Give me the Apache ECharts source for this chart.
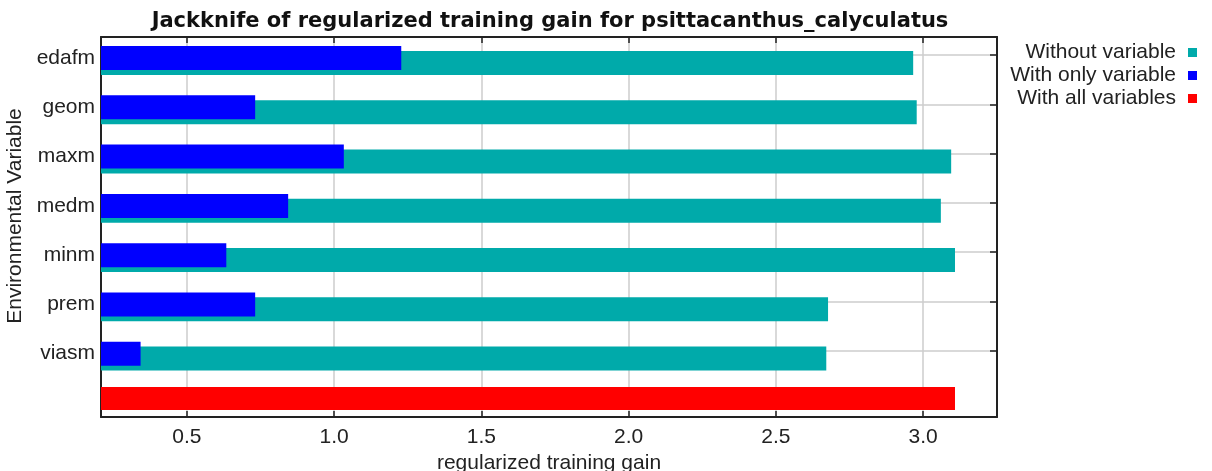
<!DOCTYPE html>
<html>
<head>
<meta charset="utf-8">
<title>Jackknife of regularized training gain</title>
<script src="https://cdn.jsdelivr.net/npm/echarts@6/dist/echarts.min.js"></script>
<style>
    html, body {
        margin: 0;
        padding: 0;
        background: #ffffff;
    }

    #jackknife-chart {
        width: 1212px;
        height: 471px;
    }
</style>
</head>
<body>
<div id="jackknife-chart"></div>
<script>
// values
const variables = ['edafm', 'geom', 'maxm', 'medm', 'minm', 'prem', 'viasm'];
const withoutVariable = [2.966, 2.978, 3.095, 3.060, 3.108, 2.677, 2.671];
const withOnlyVariable = [1.228, 0.732, 1.033, 0.844, 0.634, 0.732, 0.343];
const allVariablesRow = [''];
const withAllVariables = [3.108];
const gainTicks = [0.5, 1.0, 1.5, 2.0, 2.5, 3.0];

// layout (pixels): plot frame, row pitch of the variable rows, where the red bar sits
const plotLeft = 101, plotRight = 997, plotTop = 37, plotBottom = 417;
const rowPitch = 49.26;
const firstRowCenter = 60.5;
const allRowCenter = 398.5;
const gainMin = 0.2086, gainMax = 3.2506;

// the label axis works in "row units" so its ticks line up with the bar rows
const rowMin = (plotTop - firstRowCenter) / rowPitch;
const rowMax = (plotBottom - firstRowCenter) / rowPitch;
const tickShift = 0.11;
const labelShift = 0.05;
const rowTicks = variables.map((v, i) => i - tickShift);
const rowLabels = variables.map((v, i) => i - labelShift);

const fontFamily = '"Liberation Sans", Arial, Helvetica, sans-serif';
const frameColor = '#222';
const textColor = '#222';

const gridBox = (top, height) => ({
    left: plotLeft,
    width: plotRight - plotLeft,
    top: top,
    height: height,
    outerBoundsMode: 'none',
    containLabel: false,
});

const hiddenGainAxis = (gridIndex) => ({
    type: 'value',
    gridIndex: gridIndex,
    min: gainMin,
    max: gainMax,
    show: false,
});

let jackknife_chart = null;
let jackknifeOption = {
    animation: false,
    backgroundColor: '#ffffff',
    title: {
        text: 'Jackknife of regularized training gain for psittacanthus_calyculatus',
        left: (plotLeft + plotRight) / 2 - 4,
        textAlign: 'center',
        top: 6,
        textStyle: {
            fontFamily: '"DejaVu Sans", Verdana, sans-serif',
            fontSize: 21,
            fontWeight: 'bold',
            color: '#111',
        }
    },
    legend: {
        orient: 'vertical',
        right: 10,
        top: 37,
        align: 'right',
        icon: 'rect',
        itemWidth: 9,
        itemHeight: 9,
        itemGap: 2,
        selectedMode: false,
        data: ['Without variable', 'With only variable', 'With all variables'],
        textStyle: {
            fontFamily: fontFamily,
            fontSize: 21,
            color: textColor,
            padding: [0, 7, 0, 0],
        }
    },
    grid: [
        // 0: frame, x axis, row labels and grid lines
        gridBox(plotTop, plotBottom - plotTop),
        // 1: the seven variable rows
        gridBox(firstRowCenter - rowPitch / 2, rowPitch * variables.length),
        // 2: the "all variables" row
        gridBox(allRowCenter - rowPitch / 2, rowPitch),
    ],
    xAxis: [
        {
            type: 'value',
            gridIndex: 0,
            position: 'bottom',
            min: gainMin,
            max: gainMax,
            name: 'regularized training gain',
            nameLocation: 'middle',
            nameGap: 33,
            nameTextStyle: { fontFamily: fontFamily, fontSize: 21, color: textColor },
            axisLine: { show: true, onZero: false, lineStyle: { color: frameColor, width: 2 } },
            axisTick: { show: true, inside: true, length: 6, customValues: gainTicks, lineStyle: { color: frameColor, width: 1.5 } },
            axisLabel: {
                customValues: gainTicks,
                formatter: v => v.toFixed(1),
                fontFamily: fontFamily,
                fontSize: 21,
                color: textColor,
                margin: 10,
            },
            splitLine: { show: true, lineStyle: { color: '#cccccc', width: 1.5 } },
        },
        {
            type: 'value',
            gridIndex: 0,
            position: 'top',
            min: gainMin,
            max: gainMax,
            axisLine: { show: true, onZero: false, lineStyle: { color: frameColor, width: 2 } },
            axisTick: { show: true, inside: true, length: 6, customValues: gainTicks, lineStyle: { color: frameColor, width: 1.5 } },
            axisLabel: { show: false },
            splitLine: { show: false },
        },
        hiddenGainAxis(1),
        hiddenGainAxis(2),
    ],
    yAxis: [
        {
            type: 'value',
            gridIndex: 0,
            position: 'left',
            min: rowMin,
            max: rowMax,
            inverse: true,
            name: 'Environmental Variable',
            nameLocation: 'middle',
            nameGap: 62,
            nameTextStyle: { fontFamily: fontFamily, fontSize: 21, color: textColor, padding: [0, 0, 0, 22] },
            axisLine: { show: true, onZero: false, lineStyle: { color: frameColor, width: 2 } },
            axisTick: { show: false, customValues: rowTicks },
            axisLabel: {
                customValues: rowLabels,
                formatter: v => variables[Math.round(v + labelShift)],
                fontFamily: fontFamily,
                fontSize: 21,
                color: textColor,
                margin: 6,
            },
            splitLine: { show: true, lineStyle: { color: '#cccccc', width: 1.5 } },
        },
        {
            type: 'value',
            gridIndex: 0,
            position: 'right',
            min: rowMin,
            max: rowMax,
            inverse: true,
            axisLine: { show: true, onZero: false, lineStyle: { color: frameColor, width: 2 } },
            axisTick: { show: true, inside: true, length: 7, customValues: rowTicks, lineStyle: { color: frameColor, width: 1.5 } },
            axisLabel: { show: false },
            splitLine: { show: false },
        },
        {
            type: 'category',
            gridIndex: 1,
            data: variables,
            inverse: true,
            show: false,
        },
        {
            type: 'category',
            gridIndex: 2,
            data: allVariablesRow,
            show: false,
        }
    ],
    series: [
        {
            name: 'With only variable',
            type: 'bar',
            xAxisIndex: 2,
            yAxisIndex: 2,
            barWidth: 24,
            barGap: '-80%',
            z: 3,
            itemStyle: { color: '#0000ff' },
            data: withOnlyVariable
        },
        {
            name: 'Without variable',
            type: 'bar',
            xAxisIndex: 2,
            yAxisIndex: 2,
            barWidth: 24,
            barGap: '-80%',
            z: 2,
            itemStyle: { color: '#00aaaa' },
            data: withoutVariable
        },
        {
            name: 'With all variables',
            type: 'bar',
            xAxisIndex: 3,
            yAxisIndex: 3,
            barWidth: 23,
            itemStyle: { color: '#ff0000' },
            data: withAllVariables
        }
    ]
};

const create_jackknife_chart = () => {
    let chartDom = document.getElementById('jackknife-chart');
    jackknife_chart = echarts.init(chartDom, null, { renderer: 'canvas' });
    jackknife_chart.setOption(jackknifeOption);
    window.addEventListener('resize', jackknife_chart.resize);
}

create_jackknife_chart();
</script>
</body>
</html>
